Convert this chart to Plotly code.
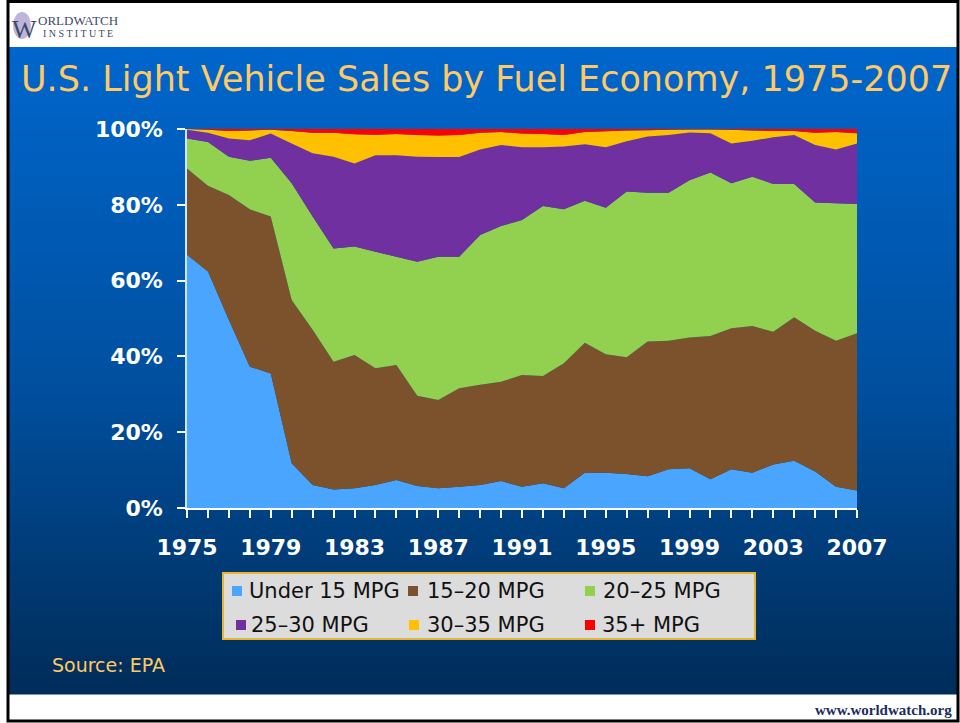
import plotly.graph_objects as go

YEARS = list(range(1975, 2008))

UNDER_15 = [66.8, 62.4, 49.6, 37.3, 35.5, 11.8, 6.1, 4.9, 5.2, 6.1, 7.4, 5.8, 5.2, 5.6, 6.1, 7.1, 5.6,
            6.5, 5.2, 9.3, 9.3, 9.0, 8.4, 10.2, 10.5, 7.6, 10.2, 9.3, 11.5, 12.5, 9.6, 5.6, 4.6]
MPG_15_20 = [22.8, 22.6, 33.0, 41.5, 41.4, 43.1, 40.9, 33.7, 35.2, 30.8, 30.3, 23.8, 23.3, 26.0, 26.4, 26.2, 29.5,
             28.3, 33.0, 34.3, 31.3, 30.8, 35.5, 33.9, 34.5, 37.8, 37.2, 38.7, 35.0, 37.8, 37.2, 38.5, 41.5]
MPG_20_25 = [7.9, 11.6, 10.1, 12.8, 15.5, 30.8, 29.9, 29.9, 28.6, 30.7, 28.6, 35.4, 37.8, 34.7, 39.5, 41.1, 40.9,
             44.9, 40.6, 37.5, 38.6, 43.7, 39.3, 39.1, 41.5, 43.1, 38.3, 39.4, 39.0, 35.2, 33.8, 36.3, 34.1]
MPG_25_30 = [2.3, 2.4, 4.8, 5.4, 6.4, 10.5, 16.7, 24.2, 21.9, 25.5, 26.8, 27.7, 26.3, 26.3, 22.6, 21.4, 19.2,
             15.5, 16.6, 14.9, 16.0, 13.3, 14.8, 15.2, 12.6, 10.4, 10.5, 9.5, 12.3, 12.9, 15.2, 14.2, 16.0]
MPG_30_35 = [0.2, 0.8, 2.0, 2.6, 1.0, 3.3, 5.4, 6.3, 7.7, 5.4, 5.6, 5.7, 5.7, 5.8, 4.4, 3.4, 3.6,
             3.5, 3.0, 3.2, 4.2, 2.8, 1.7, 1.4, 0.8, 1.0, 3.6, 2.7, 1.7, 1.1, 3.2, 4.6, 2.7]
MPG_35_PLUS = [0.0, 0.2, 0.5, 0.4, 0.2, 0.5, 1.0, 1.0, 1.4, 1.5, 1.3, 1.6, 1.7, 1.6, 1.0, 0.8, 1.2,
               1.3, 1.6, 0.8, 0.6, 0.4, 0.3, 0.2, 0.1, 0.1, 0.2, 0.4, 0.5, 0.5, 1.0, 0.8, 1.1]

SERIES_NAMES = ["Under 15 MPG", "15–20 MPG", "20–25 MPG", "25–30 MPG", "30–35 MPG", "35+ MPG"]
SERIES_VALUES = [UNDER_15, MPG_15_20, MPG_20_25, MPG_25_30, MPG_30_35, MPG_35_PLUS]
COLORS = ["#4AA5FF", "#7B522C", "#92D050", "#7030A0", "#FFC000", "#FF0000"]

XTICK_LABELS = ["1975", "", "", "", "1979", "", "", "", "1983", "", "", "", "1987", "", "", "", "1991",
                "", "", "", "1995", "", "", "", "1999", "", "", "", "2003", "", "", "", "2007"]
YTICK_VALS = [0, 20, 40, 60, 80, 100]
YTICK_LABELS = ["0%", "20%", "40%", "60%", "80%", "100%"]

W, H = 960, 723
L, R, T, B = 187, 857, 129, 508


def pxx(x):
    return (x - L) / (R - L)


def pxy(y):
    return (B - y) / (B - T)


fig = go.Figure()
for name, vals, col in zip(SERIES_NAMES, SERIES_VALUES, COLORS):
    fig.add_trace(go.Scatter(x=YEARS, y=vals, name=name, stackgroup="one", mode="none",
                             fillcolor=col, showlegend=False,
                             hovertemplate="%{x}: %{y:.1f}%<extra>" + name + "</extra>"))

shapes = []
# vertical gradient background
stops = [(47, (0x00, 0x66, 0xCC)), (380, (0x00, 0x50, 0xA0)), (694, (0x00, 0x2C, 0x58))]


def grad(y):
    for (y0, c0), (y1, c1) in zip(stops[:-1], stops[1:]):
        if y <= y1:
            t = (y - y0) / (y1 - y0)
            return "rgb(%d,%d,%d)" % tuple(round(a + (b - a) * t) for a, b in zip(c0, c1))
    return "rgb(%d,%d,%d)" % stops[-1][1]


step = 7
y = 47
while y < 694:
    y2 = min(y + step, 694)
    shapes.append(dict(type="rect", xref="paper", yref="paper", layer="below",
                       x0=pxx(9), x1=pxx(957), y0=pxy(y2 + 0.5), y1=pxy(y),
                       fillcolor=grad((y + y2) / 2), line=dict(width=0)))
    y = y2

# slide border
shapes.append(dict(type="rect", xref="paper", yref="paper", layer="above",
                   x0=pxx(8), x1=pxx(958), y0=pxy(721), y1=pxy(1.5),
                   line=dict(color="black", width=3), fillcolor="rgba(0,0,0,0)"))

# logo swoosh
shapes.append(dict(type="circle", xref="paper", yref="paper", layer="above",
                   x0=pxx(13), x1=pxx(31), y0=pxy(39), y1=pxy(12),
                   fillcolor="rgba(110,90,170,0.45)", line=dict(width=0)))

# legend box
shapes.append(dict(type="rect", xref="paper", yref="paper", layer="above",
                   x0=pxx(223), x1=pxx(755), y0=pxy(639), y1=pxy(573),
                   fillcolor="#DCDCDC", line=dict(color="#E9B430", width=2)))

annotations = []
leg_pos = [(232, 248, 591), (408, 426, 591), (585, 602, 591),
           (236, 250, 625), (409, 426, 625), (585, 601, 625)]
for (mx, tx, cy), name, col in zip(leg_pos, SERIES_NAMES, COLORS):
    shapes.append(dict(type="rect", xref="paper", yref="paper", layer="above",
                       x0=pxx(mx), x1=pxx(mx + 10), y0=pxy(cy + 5), y1=pxy(cy - 5),
                       fillcolor=col, line=dict(width=0)))
    annotations.append(dict(x=pxx(tx), y=pxy(cy), xref="paper", yref="paper", text=name,
                            showarrow=False, xanchor="left", yanchor="middle", borderpad=0,
                            font=dict(family="DejaVu Sans", size=21, color="#111111")))

# title
annotations.append(dict(x=pxx(20), y=pxy(79), xref="paper", yref="paper",
                        text="U.S. Light Vehicle Sales by Fuel Economy, 1975-2007",
                        showarrow=False, xanchor="left", yanchor="middle", borderpad=0,
                        font=dict(family="DejaVu Sans", size=35, color="#FFC965")))
# source
annotations.append(dict(x=pxx(51), y=pxy(665), xref="paper", yref="paper", text="Source: EPA",
                        showarrow=False, xanchor="left", yanchor="middle", borderpad=0,
                        font=dict(family="DejaVu Sans", size=19, color="#FFC965")))
# url
annotations.append(dict(x=pxx(953), y=pxy(710), xref="paper", yref="paper", text="www.worldwatch.org",
                        showarrow=False, xanchor="right", yanchor="middle", borderpad=0,
                        font=dict(family="Liberation Serif", size=15, color="#1C2E5E", weight="bold")))
# logo text
annotations.append(dict(x=pxx(11), y=pxy(29), xref="paper", yref="paper", text="W",
                        showarrow=False, xanchor="left", yanchor="middle", borderpad=0,
                        font=dict(family="Liberation Serif", size=26, color="#3E4A6C")))
annotations.append(dict(x=pxx(37), y=pxy(21), xref="paper", yref="paper", text="ORLDWATCH",
                        showarrow=False, xanchor="left", yanchor="middle", borderpad=0,
                        font=dict(family="Liberation Serif", size=13, color="#3E4A6C")))
annotations.append(dict(x=pxx(42), y=pxy(34), xref="paper", yref="paper", text="I N S T I T U T E",
                        showarrow=False, xanchor="left", yanchor="middle", borderpad=0,
                        font=dict(family="Liberation Serif", size=10, color="#3E4A6C")))

fig.update_layout(
    width=W, height=H,
    margin=dict(l=L, r=W - R, t=T, b=H - B, pad=0),
    paper_bgcolor="white", plot_bgcolor="rgba(0,0,0,0)",
    shapes=shapes, annotations=annotations, showlegend=False,
    xaxis=dict(range=[1975, 2007], tickvals=YEARS, ticktext=XTICK_LABELS, showgrid=False, zeroline=False,
               showline=True, linecolor="white", linewidth=2, ticks="outside", ticklen=8, tickwidth=2,
               tickcolor="white", ticklabelstandoff=11,
               tickfont=dict(family="DejaVu Sans", size=22, color="white", weight="bold")),
    yaxis=dict(range=[0, 100], tickvals=YTICK_VALS, ticktext=YTICK_LABELS, showgrid=False, zeroline=False,
               showline=True, linecolor="#CFE4FF", linewidth=1.5, ticks="outside", ticklen=8, tickwidth=2,
               tickcolor="white", ticklabelstandoff=10,
               tickfont=dict(family="DejaVu Sans", size=22, color="white", weight="bold")),
)

fig.write_html("out.html", config={"displayModeBar": False},
               post_script="document.body.style.margin='0';document.body.style.overflow='hidden';")
